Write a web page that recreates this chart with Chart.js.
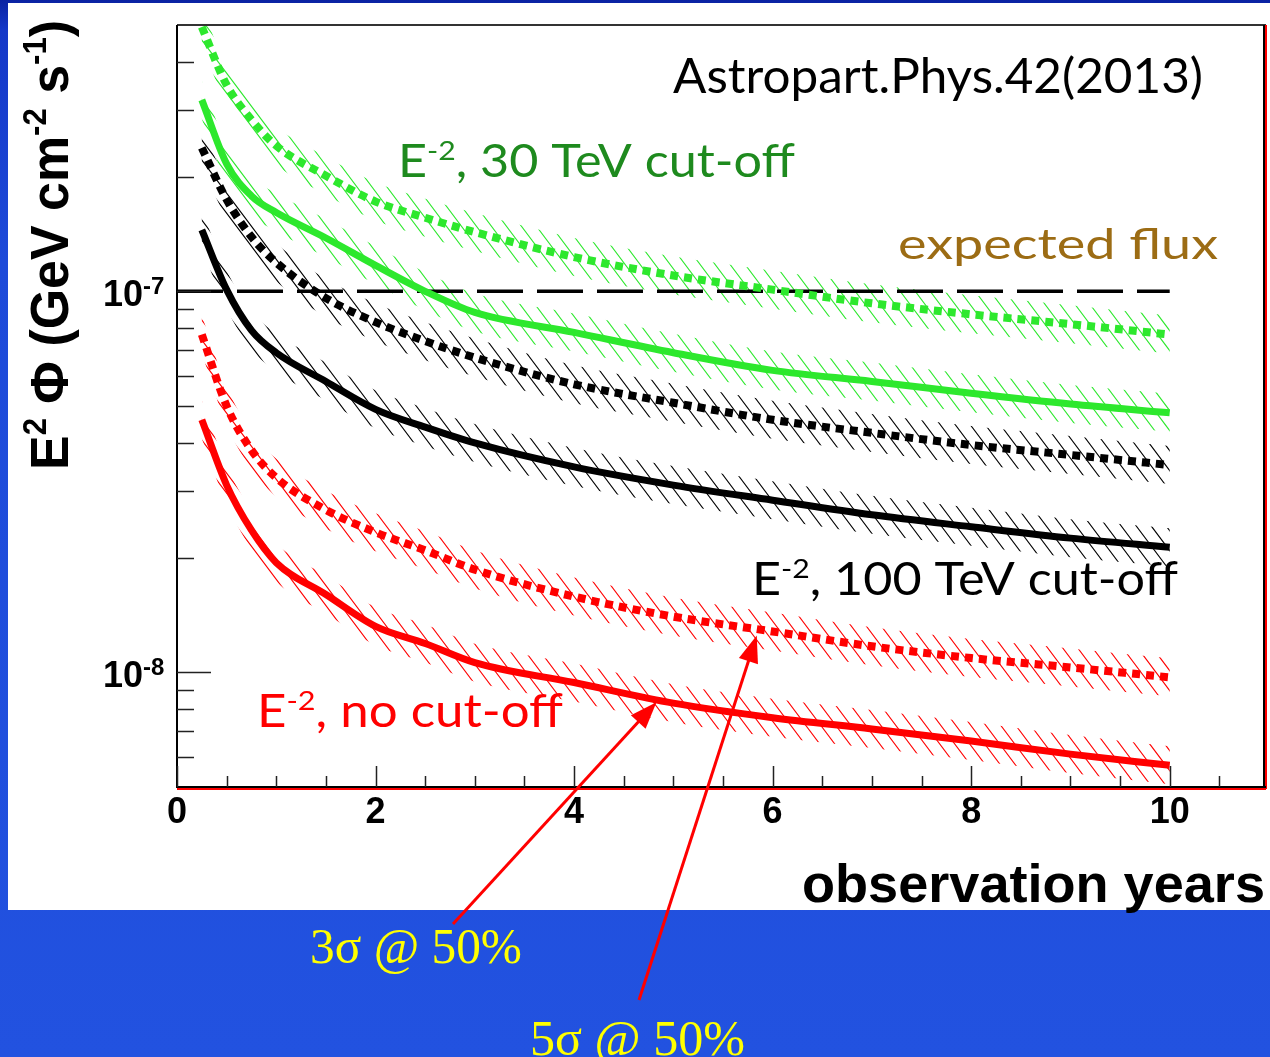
<!DOCTYPE html>
<html>
<head>
<meta charset="utf-8">
<script src="https://cdn.jsdelivr.net/npm/chart.js@4.4.1/dist/chart.umd.min.js"></script>
<style>
  html, body { margin: 0; padding: 0; width: 1270px; height: 1057px; overflow: hidden; }
  body { position: relative; background: linear-gradient(180deg, #0a22a2 0px, #1538c8 30px, #1d4ad9 260px, #2252e0 1057px); }
  #panel { position: absolute; left: 8px; top: 3px; width: 1262px; height: 907px; background: #ffffff; }
  #c { position: absolute; left: 0; top: 0; }
</style>
</head>
<body>
<div id="panel"></div>
<canvas id="c" width="1270" height="1057"></canvas>
<script>
// Observation time (years) at which the sensitivities are sampled
const years = [0.25, 0.5, 0.75, 1, 1.5, 2, 2.5, 3, 4, 5, 6, 7, 8, 9, 10];

// E^2 * flux sensitivity (GeV cm^-2 s^-1), 5 sigma @ 50% and 3 sigma @ 50%
const cut30TeV5sigma  = [4.94e-7, 3.48e-7, 2.82e-7, 2.41e-7, 2.01e-7, 1.72e-7, 1.56e-7, 1.43e-7, 1.23e-7, 1.10e-7, 1.01e-7, 9.3e-8, 8.7e-8, 8.2e-8, 7.7e-8];
const cut30TeV3sigma  = [3.18e-7, 2.16e-7, 1.78e-7, 1.61e-7, 1.38e-7, 1.17e-7, 1.00e-7, 8.8e-8, 7.8e-8, 6.9e-8, 6.2e-8, 5.8e-8, 5.4e-8, 5.06e-8, 4.8e-8];
const cut100TeV5sigma = [2.38e-7, 1.74e-7, 1.39e-7, 1.19e-7, 9.6e-8, 8.3e-8, 7.4e-8, 6.7e-8, 5.7e-8, 5.1e-8, 4.6e-8, 4.25e-8, 3.95e-8, 3.72e-8, 3.5e-8];
const cut100TeV3sigma = [1.45e-7, 1.01e-7, 7.9e-8, 6.9e-8, 5.8e-8, 4.9e-8, 4.4e-8, 4.0e-8, 3.46e-8, 3.1e-8, 2.83e-8, 2.59e-8, 2.41e-8, 2.25e-8, 2.13e-8];
const noCut5sigma     = [7.7e-8, 5.0e-8, 3.83e-8, 3.24e-8, 2.67e-8, 2.33e-8, 2.09e-8, 1.86e-8, 1.58e-8, 1.40e-8, 1.28e-8, 1.17e-8, 1.09e-8, 1.03e-8, 9.7e-9];
const noCut3sigma     = [4.6e-8, 3.1e-8, 2.36e-8, 1.94e-8, 1.60e-8, 1.32e-8, 1.19e-8, 1.06e-8, 9.4e-9, 8.3e-9, 7.6e-9, 7.1e-9, 6.6e-9, 6.1e-9, 5.7e-9];

// Expected flux level
const expectedYears = [0, 10];
const expectedFlux  = [1e-7, 1e-7];

// Axis ticks
const xMajorTicks = [0, 2, 4, 6, 8, 10];
const xMinorTicks = [0.5, 1, 1.5, 2.5, 3, 3.5, 4.5, 5, 5.5, 6.5, 7, 7.5, 8.5, 9, 9.5, 10.5];
const yMajorTicks = [1e-8, 1e-7];
const yMajorExponents = ['-8', '-7'];
const yMinorTicks = [6e-9, 7e-9, 8e-9, 9e-9, 2e-8, 3e-8, 4e-8, 5e-8, 6e-8, 7e-8, 8e-8, 9e-8, 2e-7, 3e-7, 4e-7];

// Points the annotation arrows point at (year, flux)
const arrow3sigmaTip = { x: 4.83, y: 8.35e-9 };
const arrow5sigmaTip = { x: 5.84, y: 1.25e-8 };

const GREEN = '#2de82d';
const BLACK = '#000000';
const RED = '#ff0000';

const pts = (xs, ys) => xs.map((x, i) => ({ x: x, y: ys[i] }));

function curve(values, color, dotted) {
  return {
    data: pts(years, values),
    borderColor: color,
    borderWidth: dotted ? 8 : 7,
    borderDash: dotted ? [8, 6] : [],
    borderCapStyle: 'butt',
    borderJoinStyle: 'round',
    pointRadius: 0,
    cubicInterpolationMode: 'monotone',
    hatch: { color: color, half: 19 },
    order: 1
  };
}

// Trace one edge of a band: the curve shifted vertically by dy pixels
function bandEdge(ctx, p, dy, reverse) {
  const n = p.length;
  const seg = (a, b, fwd) => {
    const c1x = fwd ? a.cp2x : a.cp1x, c1y = fwd ? a.cp2y : a.cp1y;
    const c2x = fwd ? b.cp1x : b.cp2x, c2y = fwd ? b.cp1y : b.cp2y;
    if (c1x === undefined || c2x === undefined) ctx.lineTo(b.x, b.y + dy);
    else ctx.bezierCurveTo(c1x, c1y + dy, c2x, c2y + dy, b.x, b.y + dy);
  };
  if (!reverse) {
    ctx.moveTo(p[0].x, p[0].y + dy);
    for (let i = 1; i < n; i++) seg(p[i - 1], p[i], true);
  } else {
    ctx.lineTo(p[n - 1].x, p[n - 1].y + dy);
    for (let i = n - 1; i > 0; i--) seg(p[i], p[i - 1], false);
  }
}

// Hatched uncertainty band drawn beneath each sensitivity curve
const hatchPlugin = {
  id: 'hatchBand',
  beforeDatasetsDraw(chart) {
    const { ctx, chartArea: a } = chart;
    chart.data.datasets.forEach((ds, i) => {
      if (!ds.hatch) return;
      const p = chart.getDatasetMeta(i).data;
      const h = ds.hatch.half;
      ctx.save();
      ctx.beginPath();
      ctx.rect(a.left, a.top, a.right - a.left, a.bottom - a.top);
      ctx.clip();
      ctx.beginPath();
      bandEdge(ctx, p, -h, false);
      bandEdge(ctx, p, h, true);
      ctx.closePath();
      ctx.clip();
      ctx.strokeStyle = ds.hatch.color;
      ctx.lineWidth = 1.1;
      const span = a.bottom - a.top, slant = 0.75;
      ctx.beginPath();
      for (let x0 = a.left - span * slant; x0 < a.right; x0 += 15) {
        ctx.moveTo(x0, a.top);
        ctx.lineTo(x0 + span * slant, a.bottom);
      }
      ctx.stroke();
      ctx.restore();
    });
  }
};

// Text made of plain and superscript parts, stretched to a given width
function drawRich(ctx, parts, x, y, o) {
  const fam = o.family, wt = o.weight || 'normal', size = o.size;
  const supSize = size * (o.supScale || 0.6), raise = size * (o.raise || 0.36);
  const fnt = s => wt + ' ' + s + 'px ' + fam;
  let w = 0;
  parts.forEach(p => { ctx.font = fnt(p.sup ? supSize : size); w += ctx.measureText(p.t).width; });
  const sx = o.width ? o.width / w : 1;
  ctx.save();
  ctx.translate(x, y);
  if (o.rotate) ctx.rotate(o.rotate);
  ctx.scale(sx, 1);
  ctx.fillStyle = o.color;
  ctx.textBaseline = 'alphabetic';
  ctx.textAlign = 'left';
  let cx = 0;
  parts.forEach(p => {
    ctx.font = fnt(p.sup ? supSize : size);
    ctx.fillText(p.t, cx, p.sup ? -raise : 0);
    cx += ctx.measureText(p.t).width;
  });
  ctx.restore();
}

function drawArrow(ctx, x1, y1, x2, y2) {
  const ang = Math.atan2(y2 - y1, x2 - x1);
  const L = 27, W = 10;
  const c = Math.cos(ang), s = Math.sin(ang);
  ctx.save();
  ctx.strokeStyle = RED;
  ctx.fillStyle = RED;
  ctx.lineWidth = 3;
  ctx.beginPath();
  ctx.moveTo(x1, y1);
  ctx.lineTo(x2 - L * 0.8 * c, y2 - L * 0.8 * s);
  ctx.stroke();
  ctx.beginPath();
  ctx.moveTo(x2, y2);
  ctx.lineTo(x2 - L * c - W * s, y2 - L * s + W * c);
  ctx.lineTo(x2 - L * c + W * s, y2 - L * s - W * c);
  ctx.closePath();
  ctx.fill();
  ctx.restore();
}

// Frame, ticks, tick labels, titles and annotations
const framePlugin = {
  id: 'rootFrame',
  afterDraw(chart) {
    const { ctx, chartArea: a } = chart;
    const xs = chart.scales.x, ys = chart.scales.y;
    ctx.save();
    // frame
    ctx.lineWidth = 2;
    ctx.strokeStyle = '#333333';
    ctx.beginPath(); ctx.moveTo(a.left, a.top); ctx.lineTo(a.right, a.top); ctx.stroke();
    ctx.strokeStyle = RED;
    ctx.beginPath(); ctx.moveTo(a.right, a.top); ctx.lineTo(a.right, a.bottom + 2); ctx.stroke();
    ctx.beginPath(); ctx.moveTo(a.left, a.bottom + 2); ctx.lineTo(a.right, a.bottom + 2); ctx.stroke();
    ctx.strokeStyle = BLACK;
    ctx.beginPath(); ctx.moveTo(a.right - 2, a.top); ctx.lineTo(a.right - 2, a.bottom); ctx.stroke();
    ctx.beginPath(); ctx.moveTo(a.left, a.top); ctx.lineTo(a.left, a.bottom); ctx.lineTo(a.right, a.bottom); ctx.stroke();

    // x ticks
    ctx.strokeStyle = '#222222';
    ctx.lineWidth = 1.5;
    ctx.beginPath();
    xMajorTicks.forEach(v => { const px = Math.round(xs.getPixelForValue(v)) + 0.5; ctx.moveTo(px, a.bottom); ctx.lineTo(px, a.bottom - 21); });
    xMinorTicks.forEach(v => { const px = Math.round(xs.getPixelForValue(v)) + 0.5; ctx.moveTo(px, a.bottom); ctx.lineTo(px, a.bottom - 11); });
    // y ticks
    yMajorTicks.forEach(v => { const py = Math.round(ys.getPixelForValue(v)) + 0.5; ctx.moveTo(a.left, py); ctx.lineTo(a.left + 34, py); });
    yMinorTicks.forEach(v => { const py = Math.round(ys.getPixelForValue(v)) + 0.5; ctx.moveTo(a.left, py); ctx.lineTo(a.left + 17, py); });
    ctx.stroke();

    // x tick labels
    ctx.fillStyle = BLACK;
    ctx.font = 'bold 36px "Liberation Sans", Arial, sans-serif';
    ctx.textAlign = 'center';
    ctx.textBaseline = 'alphabetic';
    xMajorTicks.forEach(v => ctx.fillText(String(v), xs.getPixelForValue(v), a.bottom + 36));

    // y tick labels
    yMajorTicks.forEach((v, i) => {
      const py = ys.getPixelForValue(v);
      ctx.font = 'bold 36px "Liberation Sans", Arial, sans-serif';
      ctx.textAlign = 'right';
      ctx.fillText('10', 143, py + 15);
      ctx.font = 'bold 24px "Liberation Sans", Arial, sans-serif';
      ctx.textAlign = 'left';
      ctx.fillText(yMajorExponents[i], 143, py + 3);
    });
    ctx.restore();

    const sans = '"Liberation Sans", Arial, sans-serif';
    const gothic = 'Lato, "Open Sans", sans-serif';

    // axis titles
    drawRich(ctx, [{ t: 'observation years' }], 802, 902,
      { family: sans, weight: 'bold', size: 53, color: BLACK, width: 463 });
    drawRich(ctx, [{ t: 'E' }, { t: '2', sup: true }, { t: ' \u03A6 (GeV cm' }, { t: '-2', sup: true },
                   { t: ' s' }, { t: '-1', sup: true }, { t: ')' }], 68, 470,
      { family: sans, weight: 'bold', size: 54, color: BLACK, width: 450, rotate: -Math.PI / 2, raise: 0.4 });

    // in-plot labels
    drawRich(ctx, [{ t: 'Astropart.Phys.42(2013)' }], 673, 93,
      { family: gothic, size: 48, color: BLACK, width: 530 });
    drawRich(ctx, [{ t: 'E' }, { t: '-2', sup: true }, { t: ', 30 TeV cut-off' }], 398, 177,
      { family: gothic, size: 46, color: '#1e8a1e', width: 397 });
    drawRich(ctx, [{ t: 'expected flux' }], 898, 259,
      { family: gothic, size: 42, color: '#9c6c14', width: 320 });
    drawRich(ctx, [{ t: 'E' }, { t: '-2', sup: true }, { t: ', 100 TeV cut-off' }], 752, 595,
      { family: gothic, size: 46, color: BLACK, width: 426 });
    drawRich(ctx, [{ t: 'E' }, { t: '-2', sup: true }, { t: ', no cut-off' }], 257, 727,
      { family: gothic, size: 46, color: RED, width: 306 });

    // annotations below the frame
    const serif = '"Liberation Serif", "Times New Roman", serif';
    drawRich(ctx, [{ t: '3\u03C3 @ 50%' }], 310, 963, { family: serif, size: 50, color: '#ffff00', width: 212 });
    drawRich(ctx, [{ t: '5\u03C3 @ 50%' }], 530, 1055, { family: serif, size: 50, color: '#ffff00', width: 215 });

    drawArrow(ctx, 453, 924, xs.getPixelForValue(arrow3sigmaTip.x), ys.getPixelForValue(arrow3sigmaTip.y));
    drawArrow(ctx, 639, 1000, xs.getPixelForValue(arrow5sigmaTip.x), ys.getPixelForValue(arrow5sigmaTip.y));
  }
};

new Chart(document.getElementById('c'), {
  type: 'line',
  data: {
    datasets: [
      {
        data: pts(expectedYears, expectedFlux),
        borderColor: BLACK,
        borderWidth: 3.5,
        borderDash: [46, 14],
        borderCapStyle: 'butt',
        pointRadius: 0,
        order: 5
      },
      curve(cut30TeV5sigma, GREEN, true),
      curve(cut30TeV3sigma, GREEN, false),
      curve(cut100TeV5sigma, BLACK, true),
      curve(cut100TeV3sigma, BLACK, false),
      curve(noCut5sigma, RED, true),
      curve(noCut3sigma, RED, false)
    ]
  },
  options: {
    responsive: false,
    animation: false,
    devicePixelRatio: 1,
    layout: { padding: { left: 177, right: 4, top: 25, bottom: 270 } },
    plugins: { legend: { display: false }, tooltip: { enabled: false } },
    scales: {
      x: { type: 'linear', min: 0, max: 10.97, display: false },
      y: { type: 'logarithmic', min: 5e-9, max: 5e-7, display: false }
    }
  },
  plugins: [hatchPlugin, framePlugin]
});
</script>
</body>
</html>
